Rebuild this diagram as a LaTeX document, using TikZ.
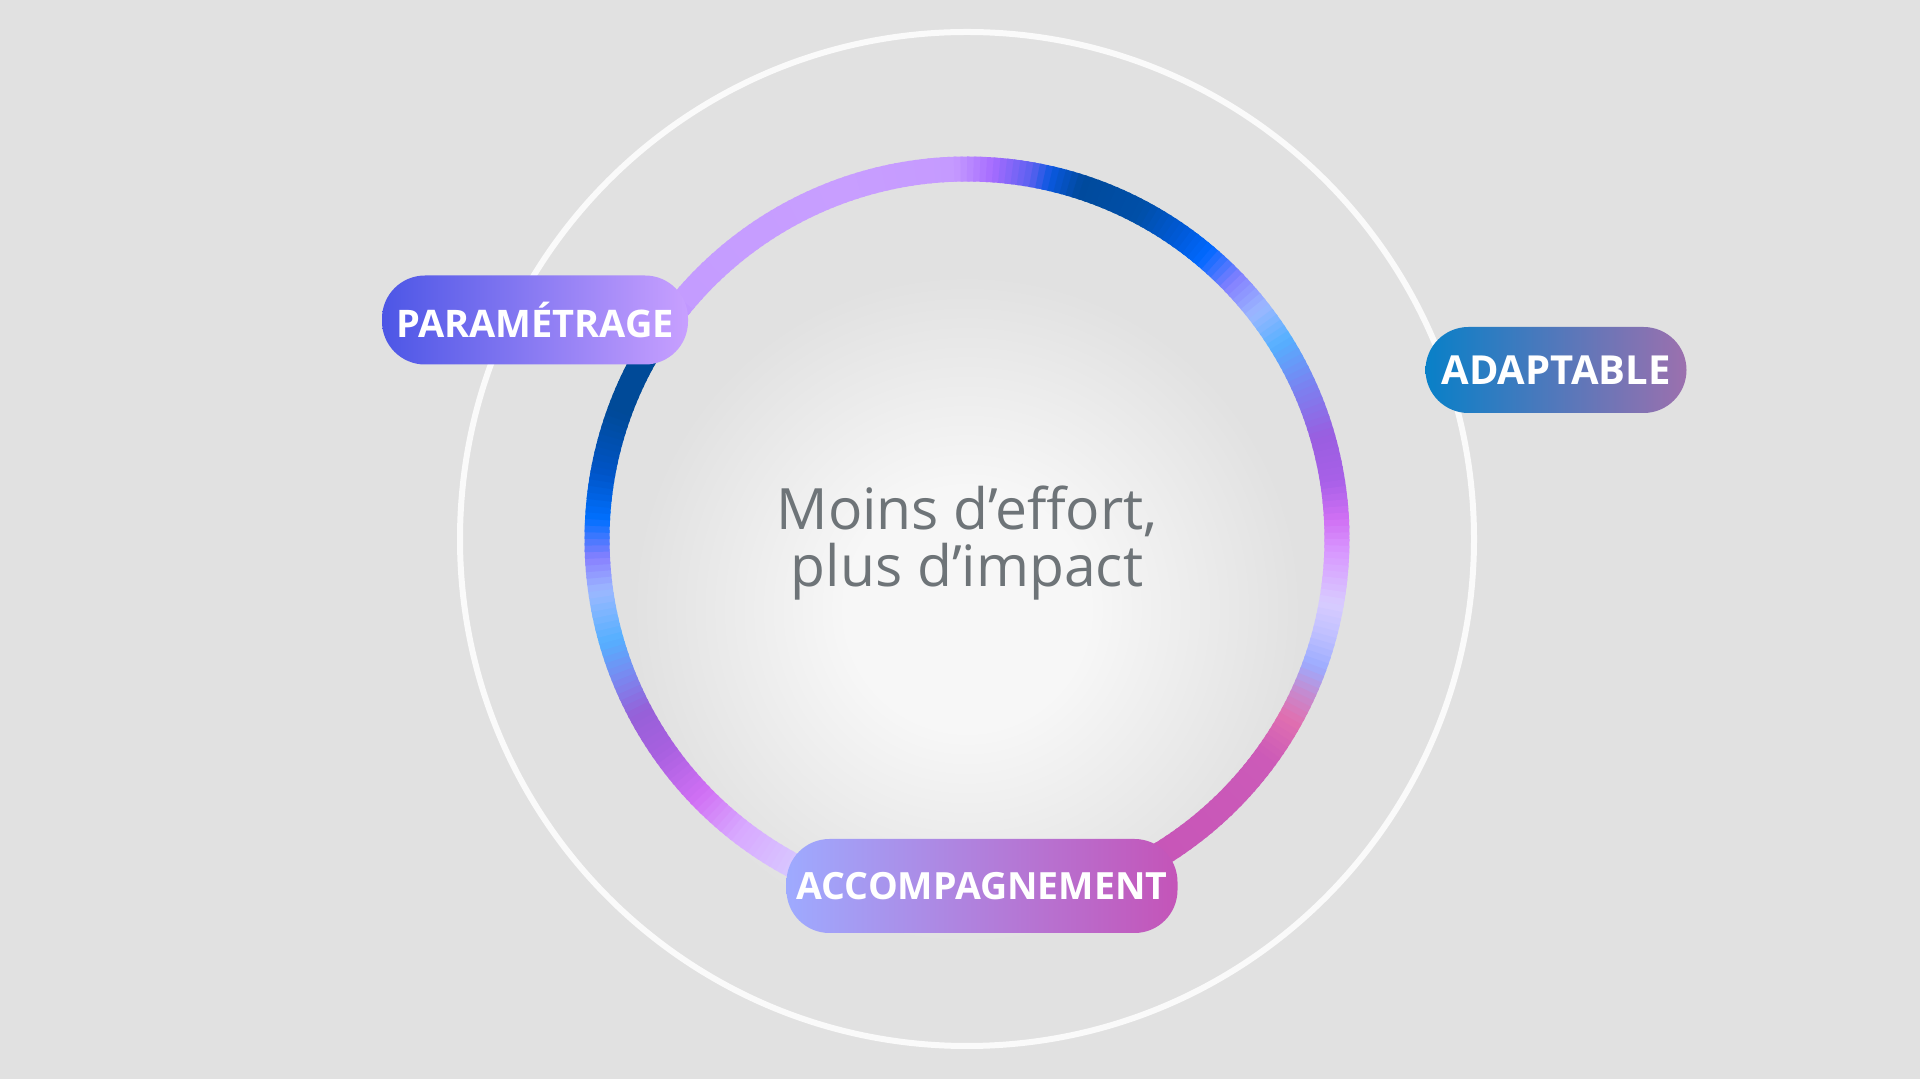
\documentclass[tikz,border=0pt]{standalone}
\usepackage{fontspec}
\setmainfont{Open Sans}
\definecolor{bg}{HTML}{E1E1E1}
\definecolor{glowc}{HTML}{F7F7F7}
\definecolor{halo}{HTML}{FAFAFA}
\definecolor{txt}{HTML}{6E7478}
\pgfdeclareradialshading{glow}{\pgfpoint{0bp}{0bp}}{color(0bp)=(glowc); color(9bp)=(glowc); color(25bp)=(bg); color(50bp)=(bg)}
\newcommand\lbl[1]{\fontsize{#1}{#1}\selectfont\bfseries}

\begin{document}
\begin{tikzpicture}[x=1pt, y=1pt,
  pill/.style={rounded corners=43pt, inner sep=0pt, text=white},
  seg/.style={line width=25pt}]
\useasboundingbox (0,0) rectangle (1920,1079);
\fill[bg] (0,0) rectangle (1920,1079);
\coordinate (o) at (967,540);
\shade[shading=glow] (967,470) circle (335);
\draw[halo, line width=6pt] (o) circle (507);
\foreach \a/\ca/\b/\cb in {146/A070FF/140/C49CFF, 140/C49CFF/110/C89EFF, 110/C89EFF/92/C59AFF, 92/C59AFF/86/A66CFF, 86/A66CFF/80/5A60F0, 80/5A60F0/77/0A58E0, 77/0A58E0/72/004A9C, 72/004A9C/62/004FA8, 62/004FA8/55/005AD8, 55/005AD8/50/0068FF, 50/0068FF/44/8480FF, 44/8480FF/38/9CB8FF, 38/9CB8FF/32/55B0FF, 32/55B0FF/24/7C80F0, 24/7C80F0/16/9A5EE0, 16/9A5EE0/9/A860E8, 9/A860E8/3/D070F4, 3/D070F4/-2/D898FF, -2/D898FF/-10/D8CCFF, -10/D8CCFF/-15/C0C0FF, -15/C0C0FF/-20/9CACFF, -20/9CACFF/-25/C888CC, -25/C888CC/-29/E070B0, -29/E070B0/-36/CC5AB8, -36/CC5AB8/-90/C050B8, -90/D8CCFF/-116/D8CCFF, -116/D8CCFF/-128/D8A8FF, -128/D8A8FF/-136/D070F4, -136/D070F4/-145/A860E0, -145/A860E0/-152/9660D8, -152/9660D8/-158/7A88F0, -158/7A88F0/-164/55B0FF, -164/55B0FF/-172/9CB8FF, -172/9CB8FF/-177/8880FF, -177/8880FF/-183/0070FF, -183/0070FF/-190/0055C8, -190/0055C8/-200/004A98, -200/004A98/-215/004A98}{
  \definecolor{ca}{HTML}{\ca}\definecolor{cb}{HTML}{\cb}
  \pgfmathtruncatemacro\n{\a-\b}
  \foreach \i in {1,...,\n}{
    \pgfmathtruncatemacro\p{100*(\i-0.5)/\n}
    \pgfmathsetmacro\s{\a-\i+1}
    \pgfmathsetmacro\e{\a-\i-0.4}
    \draw[seg, cb!\p!ca] (o) ++(\s:370) arc[start angle=\s, end angle=\e, radius=370];
  }
}
\node[text=txt, align=center, font=\fontsize{57}{57}\selectfont] (mid) at (967,536) {Moins d’effort,\\plus d’impact};
\node[pill, left color={rgb,255:red,76;green,86;blue,230}, right color={rgb,255:red,200;green,160;blue,255}, minimum width=306pt, minimum height=89pt, font=\lbl{38}] (param) at (535,759) {PARAMÉTRAGE};
\node[pill, left color={rgb,255:red,8;green,128;blue,200}, right color={rgb,255:red,156;green,112;blue,174}, minimum width=261pt, minimum height=86pt, font=\lbl{40}] (adapt) at (1556,709) {ADAPTABLE};
\node[pill, left color={rgb,255:red,158;green,170;blue,255}, right color={rgb,255:red,196;green,84;blue,184}, minimum width=391pt, minimum height=94pt, font=\lbl{37.5}] (accomp) at (982,193) {ACCOMPAGNEMENT};
\end{tikzpicture}
\end{document}
